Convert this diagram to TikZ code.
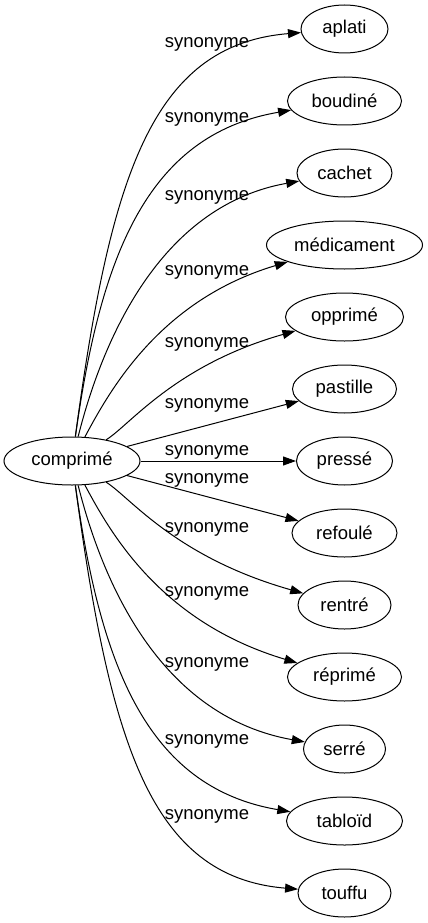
\documentclass[tikz,border=0pt]{standalone}
\usepackage{fontspec}
\setmainfont{Liberation Sans}
\usetikzlibrary{arrows.meta,shapes.geometric}
\begin{document}
\begin{tikzpicture}[x=1pt,y=-1pt,
  font=\fontsize{18.5}{22}\selectfont,
  word/.style={ellipse, draw, line width=1pt, inner sep=0pt, minimum height=48pt},
  lbl/.style={anchor=base, inner sep=0pt},
  syn/.style={line width=1pt, -{Triangle[length=13pt,width=9pt]}}]
\useasboundingbox (0,0) rectangle (428,923);
% source
\node[word, minimum width=136pt] (c) at (72,461) {comprimé};
% targets
\node[word, minimum width=87pt]  (aplati)     at (344.5,29)  {aplati};
\node[word, minimum width=114pt] (boudine)    at (344.5,101) {boudiné};
\node[word, minimum width=95pt]  (cachet)     at (344.5,173) {cachet};
\node[word, minimum width=156pt] (medicament) at (344.5,245) {médicament};
\node[word, minimum width=118pt] (opprime)    at (344.5,317) {opprimé};
\node[word, minimum width=104pt] (pastille)   at (344.5,389) {pastille};
\node[word, minimum width=96pt]  (presse)     at (344.5,461) {pressé};
\node[word, minimum width=105pt] (refoule)    at (344.5,533) {refoulé};
\node[word, minimum width=93pt]  (rentre)     at (344.5,605) {rentré};
\node[word, minimum width=114pt] (reprime)    at (344.5,677) {réprimé};
\node[word, minimum width=82pt]  (serre)      at (344.5,749) {serré};
\node[word, minimum width=116pt] (tabloid)    at (344.5,821) {tabloïd};
\node[word, minimum width=93pt]  (touffu)     at (344.5,893) {touffu};
% edges
\draw[syn] (c) .. controls (110,180) and (150,45)  .. (aplati);
\draw[syn] (c) .. controls (100,260) and (145,135) .. (boudine);
\draw[syn] (c) .. controls (105,330) and (165,205) .. (cachet);
\draw[syn] (c) .. controls (110,390) and (160,300) .. (medicament);
\draw[syn] (c) .. controls (130,425) and (175,365) .. (opprime);
\draw[syn] (c) -- (pastille);
\draw[syn] (c) -- (presse);
\draw[syn] (c) -- (refoule);
\draw[syn] (c) .. controls (130,497) and (175,557) .. (rentre);
\draw[syn] (c) .. controls (110,532) and (160,622) .. (reprime);
\draw[syn] (c) .. controls (105,592) and (165,717) .. (serre);
\draw[syn] (c) .. controls (100,662) and (145,787) .. (tabloid);
\draw[syn] (c) .. controls (110,742) and (150,877) .. (touffu);
% edge labels
\node[lbl] (l1)  at (207,48)  {synonyme};
\node[lbl] (l2)  at (207,123) {synonyme};
\node[lbl] (l3)  at (207,200) {synonyme};
\node[lbl] (l4)  at (207,275) {synonyme};
\node[lbl] (l5)  at (207,347) {synonyme};
\node[lbl] (l6)  at (207,408) {synonyme};
\node[lbl] (l7)  at (207,455) {synonyme};
\node[lbl] (l8)  at (207,483) {synonyme};
\node[lbl] (l9)  at (207,532) {synonyme};
\node[lbl] (l10) at (207,596) {synonyme};
\node[lbl] (l11) at (207,667) {synonyme};
\node[lbl] (l12) at (207,744) {synonyme};
\node[lbl] (l13) at (207,819) {synonyme};
\end{tikzpicture}
\end{document}
